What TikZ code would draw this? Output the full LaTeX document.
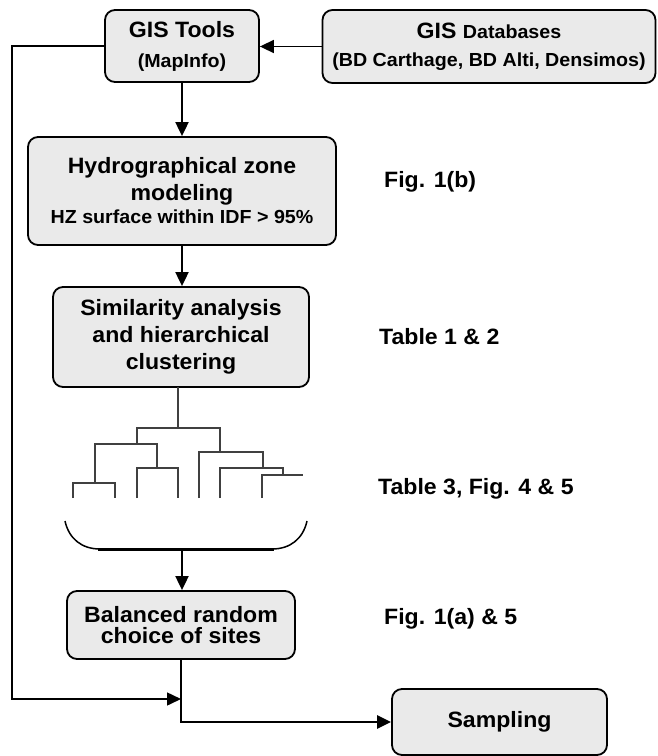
\documentclass[tikz,border=0pt]{standalone}
\usepackage{fontspec}
\setmainfont[FakeStretch=1.04]{Liberation Sans}
\usetikzlibrary{arrows.meta}
\definecolor{boxgray}{HTML}{EAEAEA}
\definecolor{dendro}{HTML}{404040}
\newcommand\BigTxt{\fontsize{22.2}{27}\selectfont}
\newcommand\SmTxt{\fontsize{18.9}{27}\selectfont}
\begin{document}
\begin{tikzpicture}[x=1pt,y=-1pt,
  box/.style={draw, line width=1.8pt, rounded corners=10pt, fill=boxgray,
    align=center, inner sep=0pt, font=\BigTxt\bfseries},
  lbl/.style={anchor=west, inner sep=0pt, font=\BigTxt\bfseries},
  conn/.style={line width=1.9pt, -{Triangle[length=14pt,width=13pt]}},
  thinconn/.style={line width=1.5pt, -{Triangle[length=14pt,width=13pt]}},
  dlin/.style={line width=1.4pt, draw=dendro}]
\useasboundingbox (0,0) rectangle (657,756);

% boxes
\node[box, minimum width=154pt, minimum height=72pt] (tools) at (182,46)
  {GIS Tools\\[3pt]{\SmTxt (MapInfo)}};
\node[box, minimum width=333pt, minimum height=73pt] (db) at (489,46.5)
  {GIS {\SmTxt Databases}\\[1pt]{\SmTxt (BD Carthage, BD Alti, Densimos)}};
\node[box, minimum width=308pt, minimum height=108pt] (hydro) at (182,191)
  {Hydrographical zone\\modeling\\[-4pt]{\SmTxt HZ surface within IDF > 95\%}};
\node[box, minimum width=256pt, minimum height=100pt] (sim) at (181,337)
  {Similarity analysis\\and hierarchical\\clustering};
\node[box, minimum width=228pt, minimum height=68pt] (bal) at (181,625)
  {Balanced random\\[-6pt]choice of sites};
\node[box, minimum width=215pt, minimum height=66pt] (samp) at (499.5,722)
  {Sampling};

% side labels
\node[lbl] (fig1b) at (384,182) {Fig. 1(b)};
\node[lbl] (tab12) at (379,337) {Table 1 \& 2};
\node[lbl] (tab3) at (378,489) {Table 3, Fig. 4 \& 5};
\node[lbl] (fig1a) at (384,619) {Fig. 1(a) \& 5};

% dendrogram
\coordinate (stemtop) at (178,387);
\draw[dlin] (stemtop) -- (178,428);
\draw[dlin] (137,444) -- (137,428) -- (220,428) -- (220,452);
\draw[dlin] (95,483) -- (95,444) -- (157,444) -- (157,468);
\draw[dlin] (73,498) -- (73,483) -- (115,483) -- (115,498);
\draw[dlin] (137,498) -- (137,468) -- (178,468) -- (178,498);
\draw[dlin] (199,498) -- (199,452) -- (263,452) -- (263,468);
\draw[dlin] (220,498) -- (220,468) -- (283,468) -- (283,475);
\draw[dlin] (262,498) -- (262,475) -- (303,475);

% bracket
\coordinate (brk) at (182,549);
\draw[line width=1.5pt] (65,521) .. controls (69,539) and (82,549) .. (100,549);
\draw[line width=1.5pt] (307,521) .. controls (303,539) and (290,549) .. (272,549);
\draw[line width=3pt] (98,549) -- (274,549);

% connectors
\draw[thinconn] (db.west) -- (db.west -| tools.east);
\draw[conn] (tools.south) -- (hydro.north);
\draw[conn] (hydro.south) -- (sim.north -| hydro.south);
\draw[conn] (brk) -- (bal.north -| brk);
\coordinate (lx) at (12,47);
\coordinate (join) at (181,699);
\draw[thinconn] (tools.west) -- (tools.west -| lx) |- (join);
\draw[line width=2.6pt, -{Triangle[length=14pt,width=13pt]}] (bal.south) |- (samp.west);
\end{tikzpicture}
\end{document}
